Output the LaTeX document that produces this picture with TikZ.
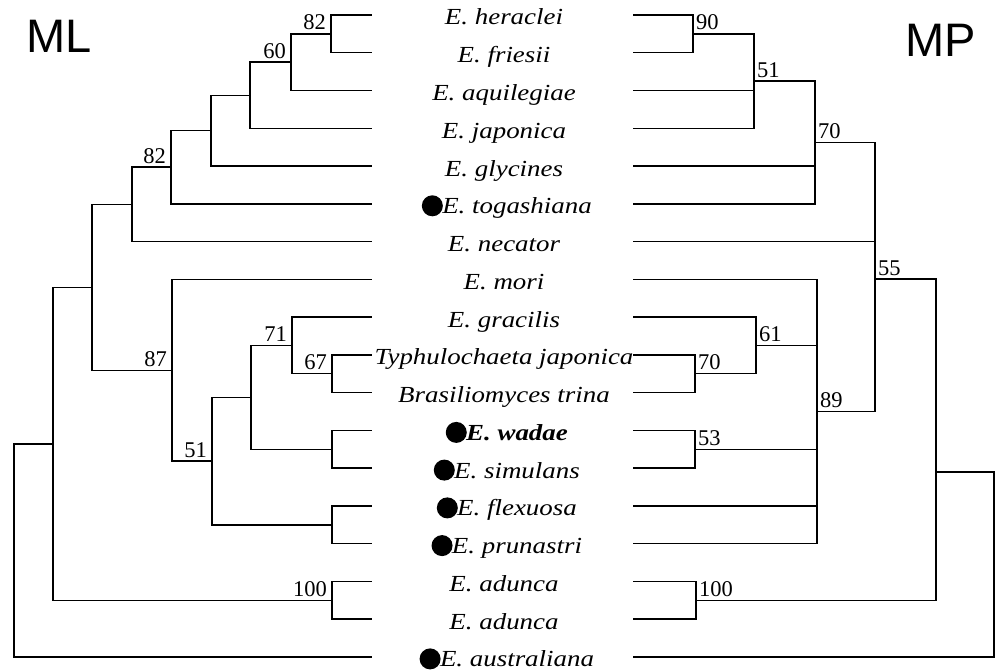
\documentclass[tikz,border=0pt]{standalone}
\usepackage{fontspec}
\setmainfont{Liberation Serif}
\newfontfamily\taxfont{Liberation Serif}[FakeStretch=1.17]
\newfontfamily\headfont{Liberation Sans}
\begin{document}
\begin{tikzpicture}[x=1pt, y=-1pt,
  branch/.style={line width=1.4pt},
  tax/.style={font=\taxfont\fontsize{23}{26}\selectfont\itshape, inner sep=0pt, anchor=base},
  taxb/.style={tax, font=\taxfont\fontsize{23}{26}\selectfont\bfseries\itshape},
  dotmark/.style={circle, fill=black, inner sep=0pt, minimum size=21pt, anchor=east},
  boot/.style={font=\fontsize{22.5}{24}\selectfont, inner sep=0pt},
  bootl/.style={boot, anchor=base east, xshift=-5pt, yshift=4pt},
  bootr/.style={boot, anchor=base west, xshift=3pt, yshift=4pt},
  head/.style={font=\headfont\fontsize{47}{50}\selectfont, inner sep=0pt, anchor=base west}]

\fill[white] (0,0) rectangle (995,671);
\useasboundingbox (0,0) rectangle (995,671);

% tip positions of both trees
\foreach \i in {1,...,18}{
  \coordinate (L\i) at (372, {15+37.76*(\i-1)});
  \coordinate (R\i) at (633, {15+37.76*(\i-1)});
}

% taxon names
\node[tax]  (t1)  at (504, 25.0)  {E. heraclei};
\node[tax]  (t2)  at (504, 62.8)  {E. friesii};
\node[tax]  (t3)  at (504, 100.5) {E. aquilegiae};
\node[tax]  (t4)  at (504, 138.3) {E. japonica};
\node[tax]  (t5)  at (504, 176.0) {E. glycines};
\node[tax]  (t6)  at (517, 213.8) {E. togashiana};
\node[tax]  (t7)  at (504, 251.6) {E. necator};
\node[tax]  (t8)  at (504, 289.3) {E. mori};
\node[tax]  (t9)  at (504, 327.1) {E. gracilis};
\node[tax]  (t10) at (504, 364.8) {Typhulochaeta japonica};
\node[tax]  (t11) at (504, 402.6) {Brasiliomyces trina};
\node[taxb] (t12) at (517, 440.4) {E. wadae};
\node[tax]  (t13) at (517, 478.1) {E. simulans};
\node[tax]  (t14) at (517, 515.9) {E. flexuosa};
\node[tax]  (t15) at (517, 553.6) {E. prunastri};
\node[tax]  (t16) at (504, 591.4) {E. adunca};
\node[tax]  (t17) at (504, 629.2) {E. adunca};
\node[tax]  (t18) at (517, 666.9) {E. australiana};

% markers before selected names
\foreach \k in {6,12,13,14,15,18}{
  \node[dotmark] (d\k) at ([xshift=1pt, yshift=8pt]t\k.base west) {};
}

% method headings
\node[head] (ml) at (26, 53) {ML};
\node[head] (mp) at (905, 57) {MP};

% ---- ML tree (left) ----
\coordinate (a82)  at (331, 33.9);
\coordinate (a60)  at (291, 62.2);
\coordinate (a4)   at (250, 95.3);
\coordinate (a5)   at (211, 130.6);
\coordinate (a82b) at (171, 167.2);
\coordinate (a7)   at (132, 204.4);
\coordinate (b67)  at (332, 373.7);
\coordinate (b71)  at (292, 345.4);
\coordinate (bws)  at (332, 449.2);
\coordinate (b251) at (251, 397.3);
\coordinate (bfp)  at (332, 524.8);
\coordinate (b51)  at (212, 461.0);
\coordinate (b87)  at (172, 370.2);
\coordinate (c92)  at (92, 287.3);
\coordinate (ad100) at (332, 600.3);
\coordinate (c53)  at (53, 443.8);
\coordinate (lroot) at (14, 550.4);

\draw[branch] (a82) |- (L1)  (a82) |- (L2);
\draw[branch] (a60) |- (a82) (a60) |- (L3);
\draw[branch] (a4) |- (a60)  (a4) |- (L4);
\draw[branch] (a5) |- (a4)   (a5) |- (L5);
\draw[branch] (a82b) |- (a5) (a82b) |- (L6);
\draw[branch] (a7) |- (a82b) (a7) |- (L7);
\draw[branch] (c92) |- (a7)  (c92) |- (b87);
\draw[branch] (b87) |- (L8)  (b87) |- (b51);
\draw[branch] (b51) |- (b251) (b51) |- (bfp);
\draw[branch] (b251) |- (b71) (b251) |- (bws);
\draw[branch] (b71) |- (L9)  (b71) |- (b67);
\draw[branch] (b67) |- (L10) (b67) |- (L11);
\draw[branch] (bws) |- (L12) (bws) |- (L13);
\draw[branch] (bfp) |- (L14) (bfp) |- (L15);
\draw[branch] (c53) |- (c92) (c53) |- (ad100);
\draw[branch] (ad100) |- (L16) (ad100) |- (L17);
\draw[branch] (lroot) |- (c53) (lroot) |- (L18);

\node[bootl] (la82)  at (a82)  {82};
\node[bootl] (la60)  at (a60)  {60};
\node[bootl] (la82b) at (a82b) {82};
\node[bootl] (lb87)  at (b87)  {87};
\node[bootl] (lb71)  at (b71)  {71};
\node[bootl] (lb67)  at (b67)  {67};
\node[bootl] (lb51)  at (b51)  {51};
\node[bootl] (lad)   at (ad100) {100};

% ---- MP tree (right) ----
\coordinate (p90)  at (693, 33.9);
\coordinate (p51)  at (754, 81.1);
\coordinate (p70)  at (815, 142.5);
\coordinate (p55)  at (875, 279);
\coordinate (q70)  at (695, 373.7);
\coordinate (q61)  at (756, 345.4);
\coordinate (q53)  at (695, 449.2);
\coordinate (q89)  at (817, 411.5);
\coordinate (q100) at (696, 600.3);
\coordinate (s936) at (936, 472);
\coordinate (rroot) at (994, 564);

\draw[branch] (p90) |- (R1)  (p90) |- (R2);
\draw[branch] (p51) |- (p90) (p51) |- (R3) (p51) |- (R4);
\draw[branch] (p70) |- (p51) (p70) |- (R5) (p70) |- (R6);
\draw[branch] (p55) |- (p70) (p55) |- (R7) (p55) |- (q89);
\draw[branch] (q89) |- (R8) (q89) |- (q61) (q89) |- (q53) (q89) |- (R14) (q89) |- (R15);
\draw[branch] (q61) |- (R9) (q61) |- (q70);
\draw[branch] (q70) |- (R10) (q70) |- (R11);
\draw[branch] (q53) |- (R12) (q53) |- (R13);
\draw[branch] (q100) |- (R16) (q100) |- (R17);
\draw[branch] (s936) |- (p55) (s936) |- (q100);
\draw[branch] (rroot) |- (s936) (rroot) |- (R18);

\node[bootr] (lp90)  at (p90)  {90};
\node[bootr] (lp51)  at (p51)  {51};
\node[bootr] (lp70)  at (p70)  {70};
\node[bootr] (lp55)  at (p55)  {55};
\node[bootr] (lq89)  at (q89)  {89};
\node[bootr] (lq61)  at (q61)  {61};
\node[bootr] (lq70)  at (q70)  {70};
\node[bootr] (lq53)  at (q53)  {53};
\node[bootr] (lq100) at (q100) {100};
\end{tikzpicture}
\end{document}
